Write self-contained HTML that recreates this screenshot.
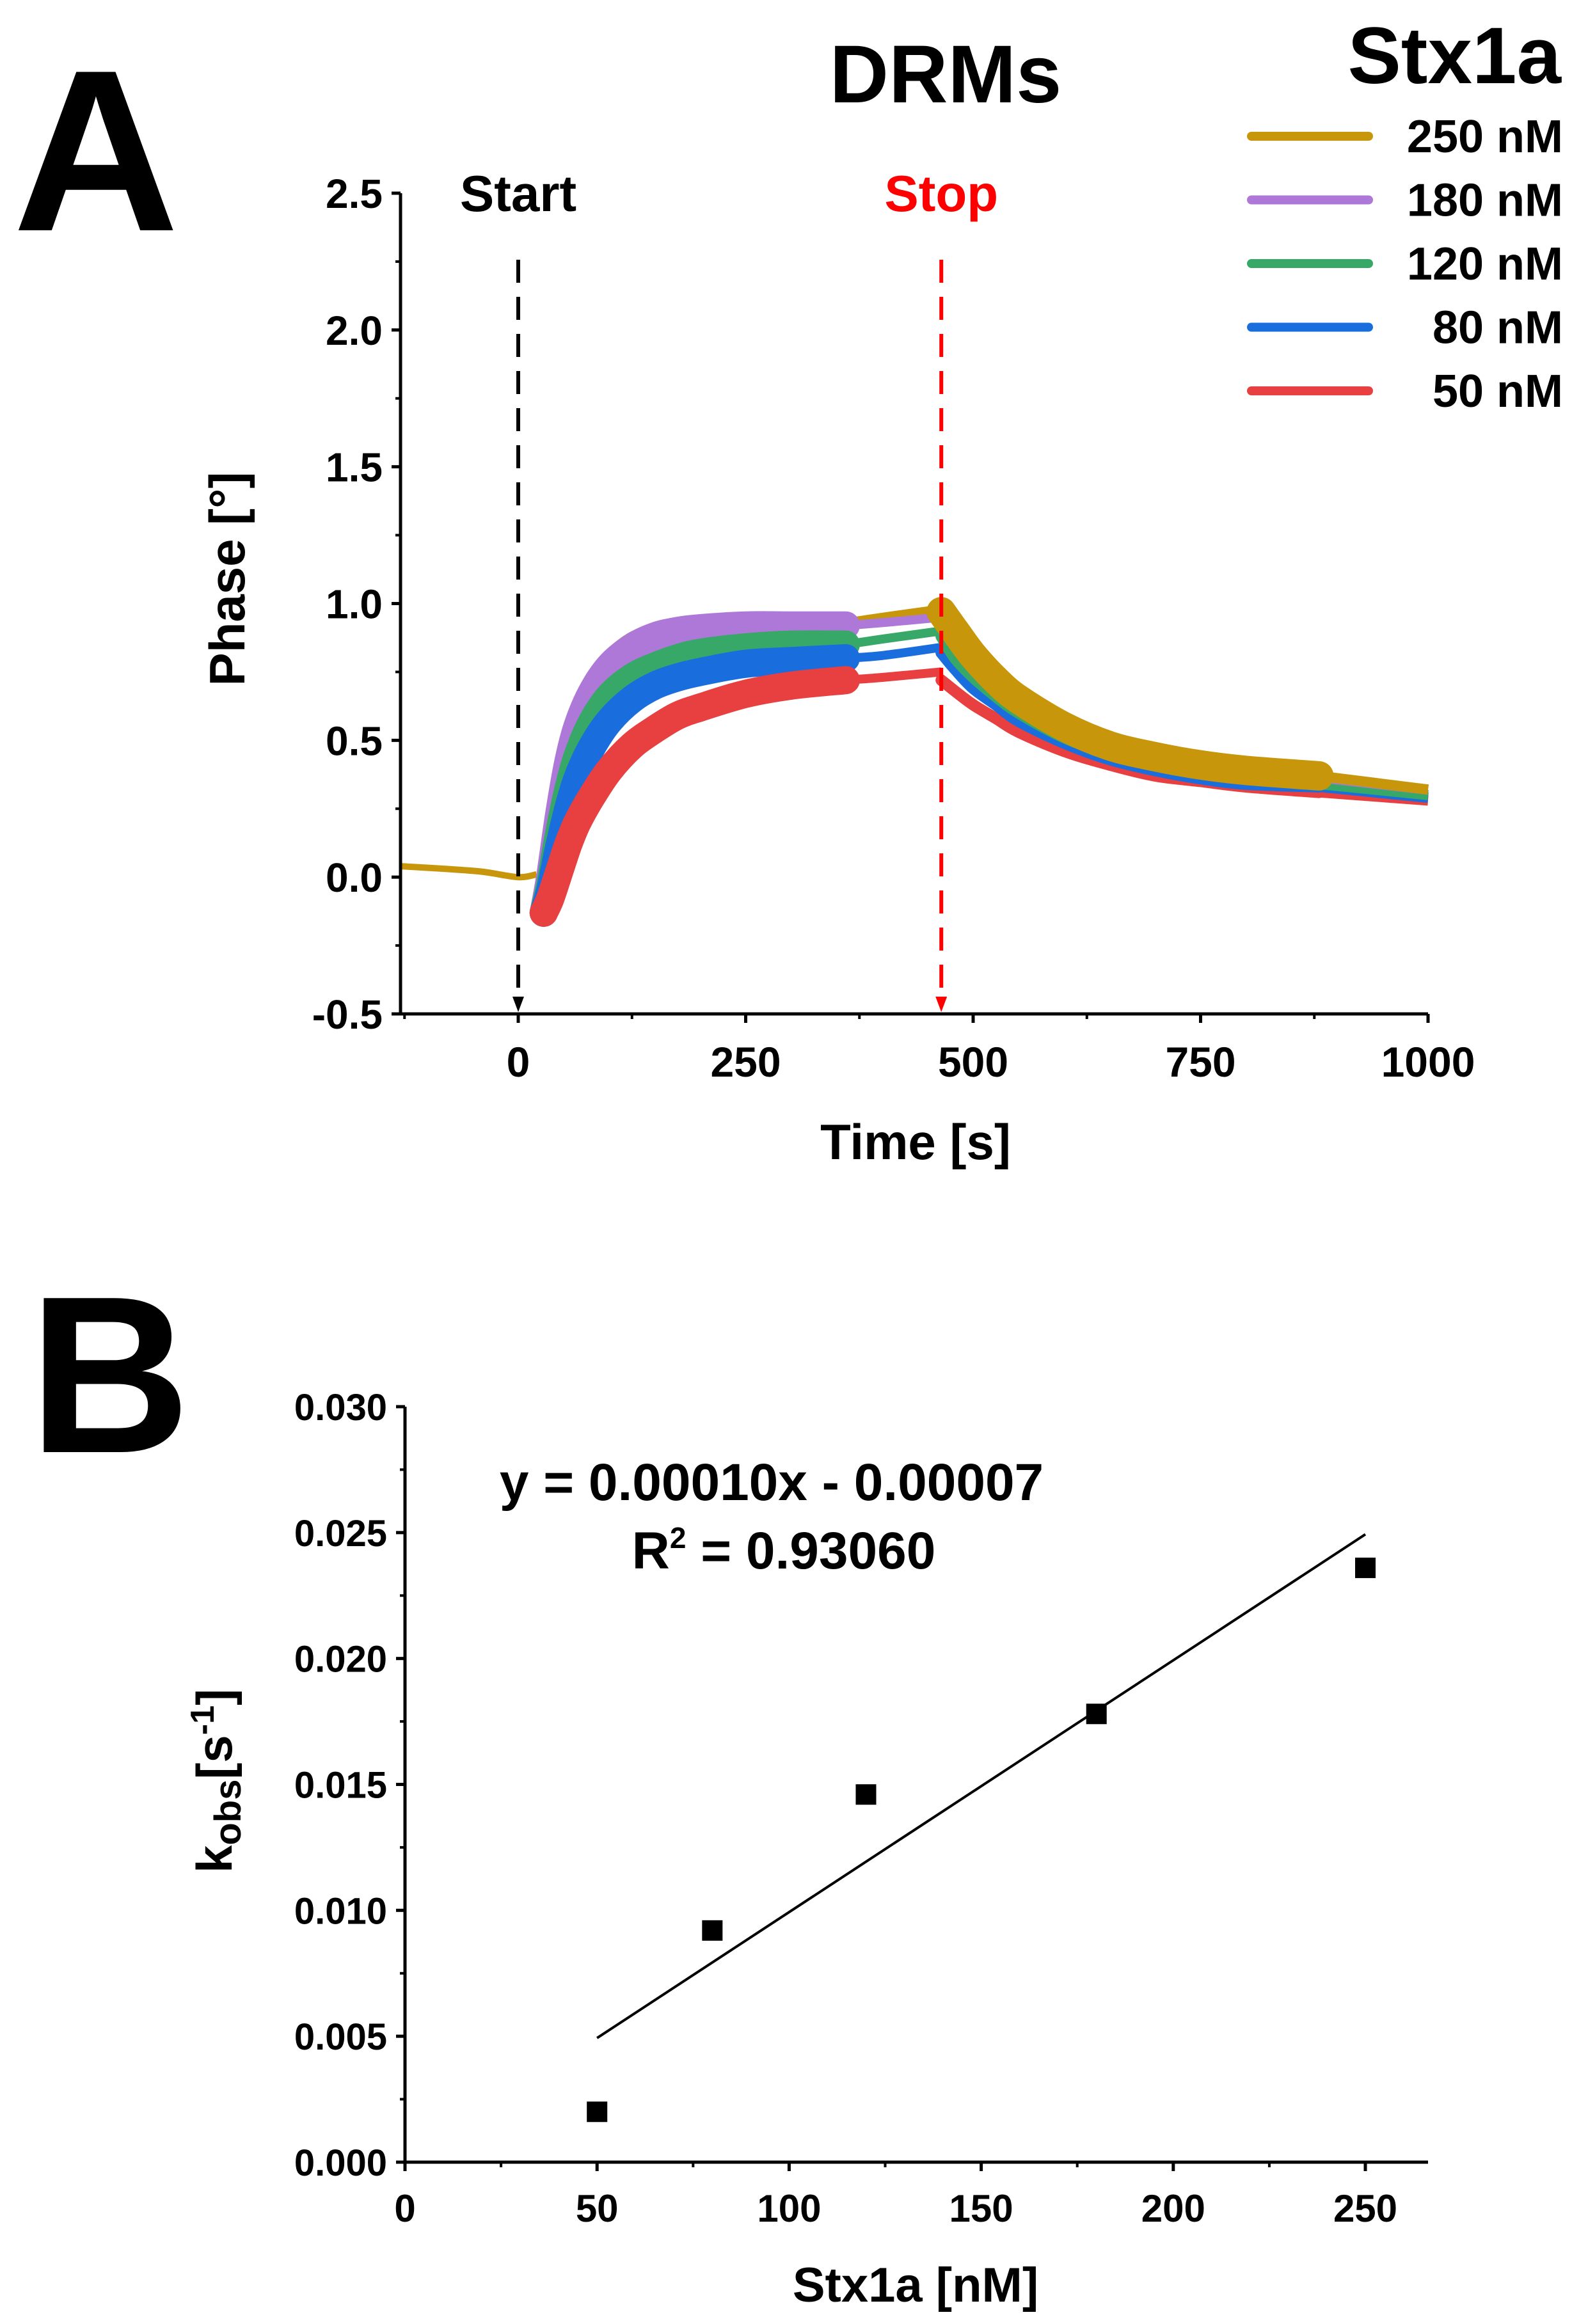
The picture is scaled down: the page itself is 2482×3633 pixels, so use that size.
<!DOCTYPE html>
<html><head><meta charset="utf-8">
<style>
html,body{margin:0;padding:0;background:#fff;}
svg{display:block;font-family:"Liberation Sans",Arial,sans-serif;font-weight:bold;}
</style></head>
<body>
<svg id="fig" width="2482" height="3633" viewBox="0 0 2482 3633" xmlns="http://www.w3.org/2000/svg">
<text x="20" y="360" font-size="360">A</text>
<text x="1478" y="160" font-size="128" text-anchor="middle">DRMs</text>
<text x="2440" y="130" font-size="125" text-anchor="end">Stx1a</text>
<text x="45" y="2270" font-size="350">B</text>
<g id="A"></g>
<g id="B"></g>
</svg>
<script>
// ---------- Panel A data ----------
const seriesNames = ['250 nM','180 nM','120 nM','80 nM','50 nM'];
const seriesColors = ['#c8960a','#ad78d8','#38a868','#1a6ddc','#e84040'];
const baseT = [-129,-80,-40,0,20];
const baseV = [0.04,0.03,0.02,0.0,0.01];
const assocT = [28,35,45,55,65,80,100,125,150,175,200,250,300,360,400,465];
const assoc250 = [-0.13,0.02,0.25,0.45,0.58,0.70,0.79,0.86,0.89,0.91,0.92,0.93,0.93,0.93,0.95,0.98];
const assoc180 = [-0.13,0.00,0.23,0.42,0.55,0.67,0.77,0.84,0.88,0.90,0.91,0.92,0.92,0.92,0.93,0.95];
const assoc120 = [-0.13,-0.03,0.16,0.32,0.44,0.56,0.66,0.73,0.77,0.80,0.82,0.84,0.85,0.85,0.87,0.90];
const assoc80 = [-0.13,-0.05,0.11,0.25,0.36,0.47,0.57,0.65,0.70,0.73,0.75,0.78,0.79,0.80,0.81,0.84];
const assoc50 = [-0.13,-0.08,0.02,0.12,0.20,0.29,0.39,0.48,0.54,0.59,0.62,0.67,0.70,0.72,0.73,0.75];
const dissT = [465,480,500,525,550,600,650,700,750,800,880,1000];
const diss250 = [0.97,0.90,0.81,0.72,0.65,0.55,0.48,0.44,0.41,0.39,0.37,0.32];
const diss180 = [0.95,0.88,0.80,0.71,0.64,0.545,0.475,0.435,0.405,0.385,0.365,0.32];
const diss120 = [0.88,0.80,0.73,0.66,0.60,0.51,0.45,0.41,0.38,0.36,0.34,0.30];
const diss80 = [0.82,0.76,0.69,0.63,0.57,0.49,0.43,0.39,0.36,0.34,0.33,0.29];
const diss50 = [0.72,0.68,0.63,0.58,0.53,0.46,0.41,0.37,0.35,0.33,0.31,0.28];
const aXTicks = [0,250,500,750,1000];
const aYTicks = [-0.5,0.0,0.5,1.0,1.5,2.0,2.5];
const startTime = 0, stopTime = 465;
// ---------- Panel B data ----------
const conc = [50,80,120,180,250];
const kobs = [0.0020,0.0092,0.0146,0.0178,0.0236];
const fitSlope = 0.00010, fitIntercept = -0.00007;
const bXTicks = [0,50,100,150,200,250];
const bYTicks = [0.000,0.005,0.010,0.015,0.020,0.025,0.030];

const NS='http://www.w3.org/2000/svg';
function mk(parent,tag,attrs,text){const e=document.createElementNS(NS,tag);for(const k in attrs)e.setAttribute(k,attrs[k]);if(text!==undefined)e.textContent=text;parent.appendChild(e);return e;}

// ----- Panel A -----
const gA=document.getElementById('A');
const AX0=626,AX1=2232,AY0=1585,AY1=302;
const ax=t=>810+(t-0)*(2232-810)/1000;
const ay=v=>AY0-(v+0.5)*(AY0-AY1)/3;
function pathFrom(ts,vs,i0,i1){
  const p=[];for(let i=i0;i<=i1;i++)p.push([ax(ts[i]),ay(vs[i])]);
  let d='M'+p[0][0].toFixed(1)+' '+p[0][1].toFixed(1);
  for(let i=0;i<p.length-1;i++){
    const p0=p[Math.max(0,i-1)],p1=p[i],p2=p[i+1],p3=p[Math.min(p.length-1,i+2)];
    const c1x=p1[0]+(p2[0]-p0[0])/6,c1y=p1[1]+(p2[1]-p0[1])/6;
    const c2x=p2[0]-(p3[0]-p1[0])/6,c2y=p2[1]-(p3[1]-p1[1])/6;
    d+=`C${c1x.toFixed(1)} ${c1y.toFixed(1)} ${c2x.toFixed(1)} ${c2y.toFixed(1)} ${p2[0].toFixed(1)} ${p2[1].toFixed(1)}`;
  }
  return d;
}
const assocAll=[assoc250,assoc180,assoc120,assoc80,assoc50];
const dissAll=[diss250,diss180,diss120,diss80,diss50];
let bl=mk(gA,'path',{d:pathFrom(baseT,baseV,0,baseT.length-1),stroke:seriesColors[0],'stroke-width':10,fill:'none','stroke-linejoin':'round'});


const iSplit=assocT.indexOf(360);
for(let s=0;s<5;s++){
  let p=mk(gA,'path',{d:pathFrom(assocT,assocAll[s],0,iSplit),stroke:seriesColors[s],'stroke-width':s===0?30:44,fill:'none','stroke-linejoin':'round','stroke-linecap':'round'});
  
  
  let q=mk(gA,'path',{d:pathFrom(assocT,assocAll[s],iSplit,assocT.length-1),stroke:seriesColors[s],'stroke-width':14,fill:'none'});
  
  
}
const iD=dissT.indexOf(880);
for(let s=4;s>=0;s--){
  let p=mk(gA,'path',{d:pathFrom(dissT,dissAll[s],0,iD),stroke:seriesColors[s],'stroke-width':s===0?46:18,fill:'none','stroke-linejoin':'round','stroke-linecap':'round'});
  
  
  let q=mk(gA,'path',{d:pathFrom(dissT,dissAll[s],iD,dissT.length-1),stroke:seriesColors[s],'stroke-width':16,fill:'none'});
  
  
}
[[startTime,'#000','Start','start'],[stopTime,'#ff0000','Stop','stop']].forEach(m=>{
  const x=ax(m[0]);
  let l=mk(gA,'line',{x1:x,y1:406,x2:x,y2:1565,stroke:m[1],'stroke-width':6,'stroke-dasharray':'36 22'});
  
  
  let a=mk(gA,'path',{d:`M${x-9} 1558 L${x+9} 1558 L${x} 1582 Z`,fill:m[1]});
  
  
  let t=mk(gA,'text',{x:x,y:330,'font-size':80,'text-anchor':'middle',fill:m[1]},m[2]);
  
  
});
let axA=mk(gA,'path',{d:`M${AX0} ${AY1} L${AX0} ${AY0} L${AX1} ${AY0}`,stroke:'#000','stroke-width':5,fill:'none'});


aYTicks.forEach((v,i)=>{
  mk(gA,'line',{x1:AX0-14,y1:ay(v),x2:AX0,y2:ay(v),stroke:'#000','stroke-width':5});
  if(i<aYTicks.length-1)mk(gA,'line',{x1:AX0-8,y1:ay(v+0.25),x2:AX0,y2:ay(v+0.25),stroke:'#000','stroke-width':4});
  let t=mk(gA,'text',{x:AX0-28,y:ay(v)+23,'font-size':64,'text-anchor':'end'},v.toFixed(1));
  
  
});
aXTicks.forEach((v,i)=>{
  mk(gA,'line',{x1:ax(v),y1:AY0,x2:ax(v),y2:AY0+14,stroke:'#000','stroke-width':5});
  mk(gA,'line',{x1:ax(v-125),y1:AY0,x2:ax(v-125),y2:AY0+8,stroke:'#000','stroke-width':4});
  let t=mk(gA,'text',{x:ax(v),y:1683,'font-size':66,'text-anchor':'middle'},String(v));
  
  
});
let xtA=mk(gA,'text',{x:1431,y:1812,'font-size':78,'text-anchor':'middle'},'Time [s]');


let ytA=mk(gA,'text',{x:0,y:0,'font-size':78,'text-anchor':'middle',transform:'translate(382,905) rotate(-90)'},'Phase [°]');


seriesNames.forEach((n,i)=>{
  const y=213+i*99.5;
  let l=mk(gA,'line',{x1:1956,y1:y,x2:2139,y2:y,stroke:seriesColors[i],'stroke-width':14,'stroke-linecap':'round'});
  
  
  let t=mk(gA,'text',{x:2443,y:y+25,'font-size':72,'text-anchor':'end'},n);
  
  
});

// ----- Panel B -----
const gB=document.getElementById('B');
const BX0=633,BX1=2232,BY0=3380,BY1=2199;
const bx=c=>633+c*(2134-633)/250;
const by=k=>BY0-k*(BY0-BY1)/0.030;
let axB=mk(gB,'path',{d:`M${BX0} ${BY1} L${BX0} ${BY0} L${BX1} ${BY0}`,stroke:'#000','stroke-width':5,fill:'none'});


bYTicks.forEach((v,i)=>{
  mk(gB,'line',{x1:BX0-14,y1:by(v),x2:BX0,y2:by(v),stroke:'#000','stroke-width':5});
  if(i<bYTicks.length-1)mk(gB,'line',{x1:BX0-8,y1:by(v+0.0025),x2:BX0,y2:by(v+0.0025),stroke:'#000','stroke-width':4});
  let t=mk(gB,'text',{x:BX0-28,y:by(v)+21,'font-size':58,'text-anchor':'end'},v.toFixed(3));
  
  
});
bXTicks.forEach((v,i)=>{
  mk(gB,'line',{x1:bx(v),y1:BY0,x2:bx(v),y2:BY0+14,stroke:'#000','stroke-width':5});
  if(i<bXTicks.length-1)mk(gB,'line',{x1:bx(v+25),y1:BY0,x2:bx(v+25),y2:BY0+8,stroke:'#000','stroke-width':4});
  let t=mk(gB,'text',{x:bx(v),y:3473,'font-size':60,'text-anchor':'middle'},String(v));
  
  
});
const c0=conc[0],c1=conc[conc.length-1];
let fit=mk(gB,'line',{x1:bx(c0),y1:by(fitSlope*c0+fitIntercept),x2:bx(c1),y2:by(fitSlope*c1+fitIntercept),stroke:'#000','stroke-width':4});


conc.forEach((c,i)=>{
  let r=mk(gB,'rect',{x:bx(c)-16,y:by(kobs[i])-16,width:32,height:32,fill:'#000'});
  
  
});
let eq=mk(gB,'text',{x:1206,y:2345,'font-size':82,'text-anchor':'middle'},'y = 0.00010x - 0.00007');


let r2=mk(gB,'text',{x:1225,y:2452,'font-size':82,'text-anchor':'middle'});


r2.innerHTML='R<tspan font-size="46" dy="-32">2</tspan><tspan dy="32"> = 0.93060</tspan>';
let xtB=mk(gB,'text',{x:1431,y:3598,'font-size':76,'text-anchor':'middle'},'Stx1a [nM]');


let ytB=mk(gB,'text',{x:0,y:0,'font-size':78,'text-anchor':'middle',transform:'translate(362,2784) rotate(-90)'});


ytB.innerHTML='k<tspan font-size="58" dy="14">obs</tspan><tspan dy="-14">[s</tspan><tspan font-size="52" dy="-28">-1</tspan><tspan dy="28">]</tspan>';
</script>
</body></html>
